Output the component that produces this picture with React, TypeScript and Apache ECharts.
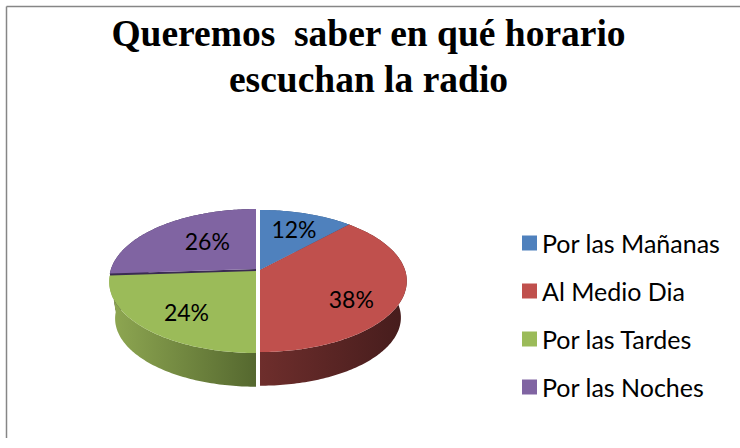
import React, { useEffect, useRef } from "react";
import * as echarts from "echarts";

const titleLines = ["Queremos  saber en qué horario", "escuchan la radio"];
const categories = ["Por las Mañanas", "Al Medio Dia", "Por las Tardes", "Por las Noches"];
const values = [12, 38, 24, 26];
const topColors = ["#4f81bd", "#c0504d", "#9bbb59", "#8064a2"];
const wallStops = [
  ["#3a5f8c", "#2b466a"],
  ["#6e2e2c", "#451c1c"],
  ["#8fa852", "#55682f"],
  ["#3a2b52", "#3a2b52"],
];

// Pie geometry (a perspective projection of a flat disc)
const CX = 258, CY = 270, RX = 145, RY = 69.3, K = 0.155;
const DEPTH = 37, BOTTOM_SCALE = 0.96;
const sliceShift = [[2, 0], [2, 0], [-2, 1], [-2, -1]];
const labelRadius = [0.7, 0.71, 0.695, 0.56];
const labelAngleShift = [0, 12, -4, 7];
const wallLayer = [2, 2, 2, 0];

const total = values.reduce((a, b) => a + b, 0);
const starts = values.map((_, i) => values.slice(0, i).reduce((a, b) => a + b, 0));

function project(angleDeg: number, r: number, idx: number, bottom: boolean) {
  const t = (angleDeg * Math.PI) / 180;
  const X = r * Math.sin(t), Y = r * Math.cos(t);
  const d = 1 + K * Y;
  const s = bottom ? BOTTOM_SCALE : 1;
  return [
    CX + sliceShift[idx][0] + (RX * s * X) / d,
    CY + sliceShift[idx][1] + (bottom ? DEPTH : 0) - (RY * s * Y) / d,
  ];
}

function rim(a0: number, a1: number, idx: number, bottom: boolean) {
  const pts: number[][] = [];
  const n = Math.max(2, Math.ceil(Math.abs(a1 - a0)));
  for (let j = 0; j <= n; j++) pts.push(project(a0 + ((a1 - a0) * j) / n, 1, idx, bottom));
  return pts;
}

function makeRenderItem(idx: number) {
  return (_params: any, api: any) => {
    const value = api.value(0);
    const a0 = (starts[idx] / total) * 360;
    const a1 = a0 + (value / total) * 360;
    const mid = (a0 + a1) / 2 + labelAngleShift[idx];
    const topPts = [project(0, 0, idx, false), ...rim(a0, a1, idx, false)];
    const wallPts = [...rim(a0, a1, idx, false), ...rim(a0, a1, idx, true).reverse()];
    const cutPts = [
      project(0, 0, idx, false),
      project(a0, 1, idx, false),
      project(a0, 1, idx, true),
      project(0, 0, idx, true),
    ];
    const lp = project(mid, labelRadius[idx], idx, false);
    const wallFill = new echarts.graphic.LinearGradient(0, 0, 1, 0, [
      { offset: 0, color: wallStops[idx][0] },
      { offset: 1, color: wallStops[idx][1] },
    ]);
    return {
      type: "group",
      children: [
        { type: "polygon", z2: wallLayer[idx], shape: { points: wallPts }, style: { fill: wallFill } },
        { type: "polygon", z2: 1, shape: { points: cutPts }, style: { fill: wallStops[idx][1] } },
        { type: "polygon", z2: idx === 3 ? 3 : 4, shape: { points: topPts }, style: { fill: topColors[idx] } },
        {
          type: "text",
          z2: 10,
          style: {
            text: `${Math.round((value / total) * 100)}%`,
            x: lp[0],
            y: lp[1],
            fill: "#000",
            font: "23px Lato",
            align: "center",
            verticalAlign: "middle",
          },
        },
      ],
    };
  };
}

export default function App() {
  const ref = useRef<HTMLDivElement>(null);
  useEffect(() => {
    const chart = echarts.init(ref.current!, null, { renderer: "svg" });
    chart.setOption({
      animation: false,
      backgroundColor: "#fff",
      title: {
        text: titleLines.join("\n"),
        left: 363.5,
        top: 5,
        textAlign: "center",
        textStyle: {
          fontFamily: "Liberation Serif",
          fontWeight: "bold",
          fontSize: 37.5,
          lineHeight: 46,
          color: "#000",
        },
      },
      legend: {
        orient: "vertical",
        left: 517,
        top: 225.5,
        itemWidth: 15,
        itemHeight: 15,
        itemGap: 23,
        icon: "rect",
        data: categories,
        textStyle: { fontFamily: "Lato", fontSize: 25, color: "#000", height: 24, lineHeight: 24 },
      },
      graphic: [
        { type: "line", shape: { x1: 6.5, y1: 6.5, x2: 740, y2: 6.5 }, style: { stroke: "#868686", lineWidth: 1.5 } },
        { type: "line", shape: { x1: 6.5, y1: 6.5, x2: 6.5, y2: 438 }, style: { stroke: "#868686", lineWidth: 1.5 } },
      ],
      series: categories.map((name, i) => ({
        type: "custom",
        name,
        coordinateSystem: "none",
        silent: true,
        itemStyle: { color: topColors[i] },
        data: [[values[i]]],
        renderItem: makeRenderItem(i),
      })),
    });
    return () => chart.dispose();
  }, []);
  return <div ref={ref} style={{ position: "fixed", left: 0, top: 0, width: 740, height: 448 }} />;
}
